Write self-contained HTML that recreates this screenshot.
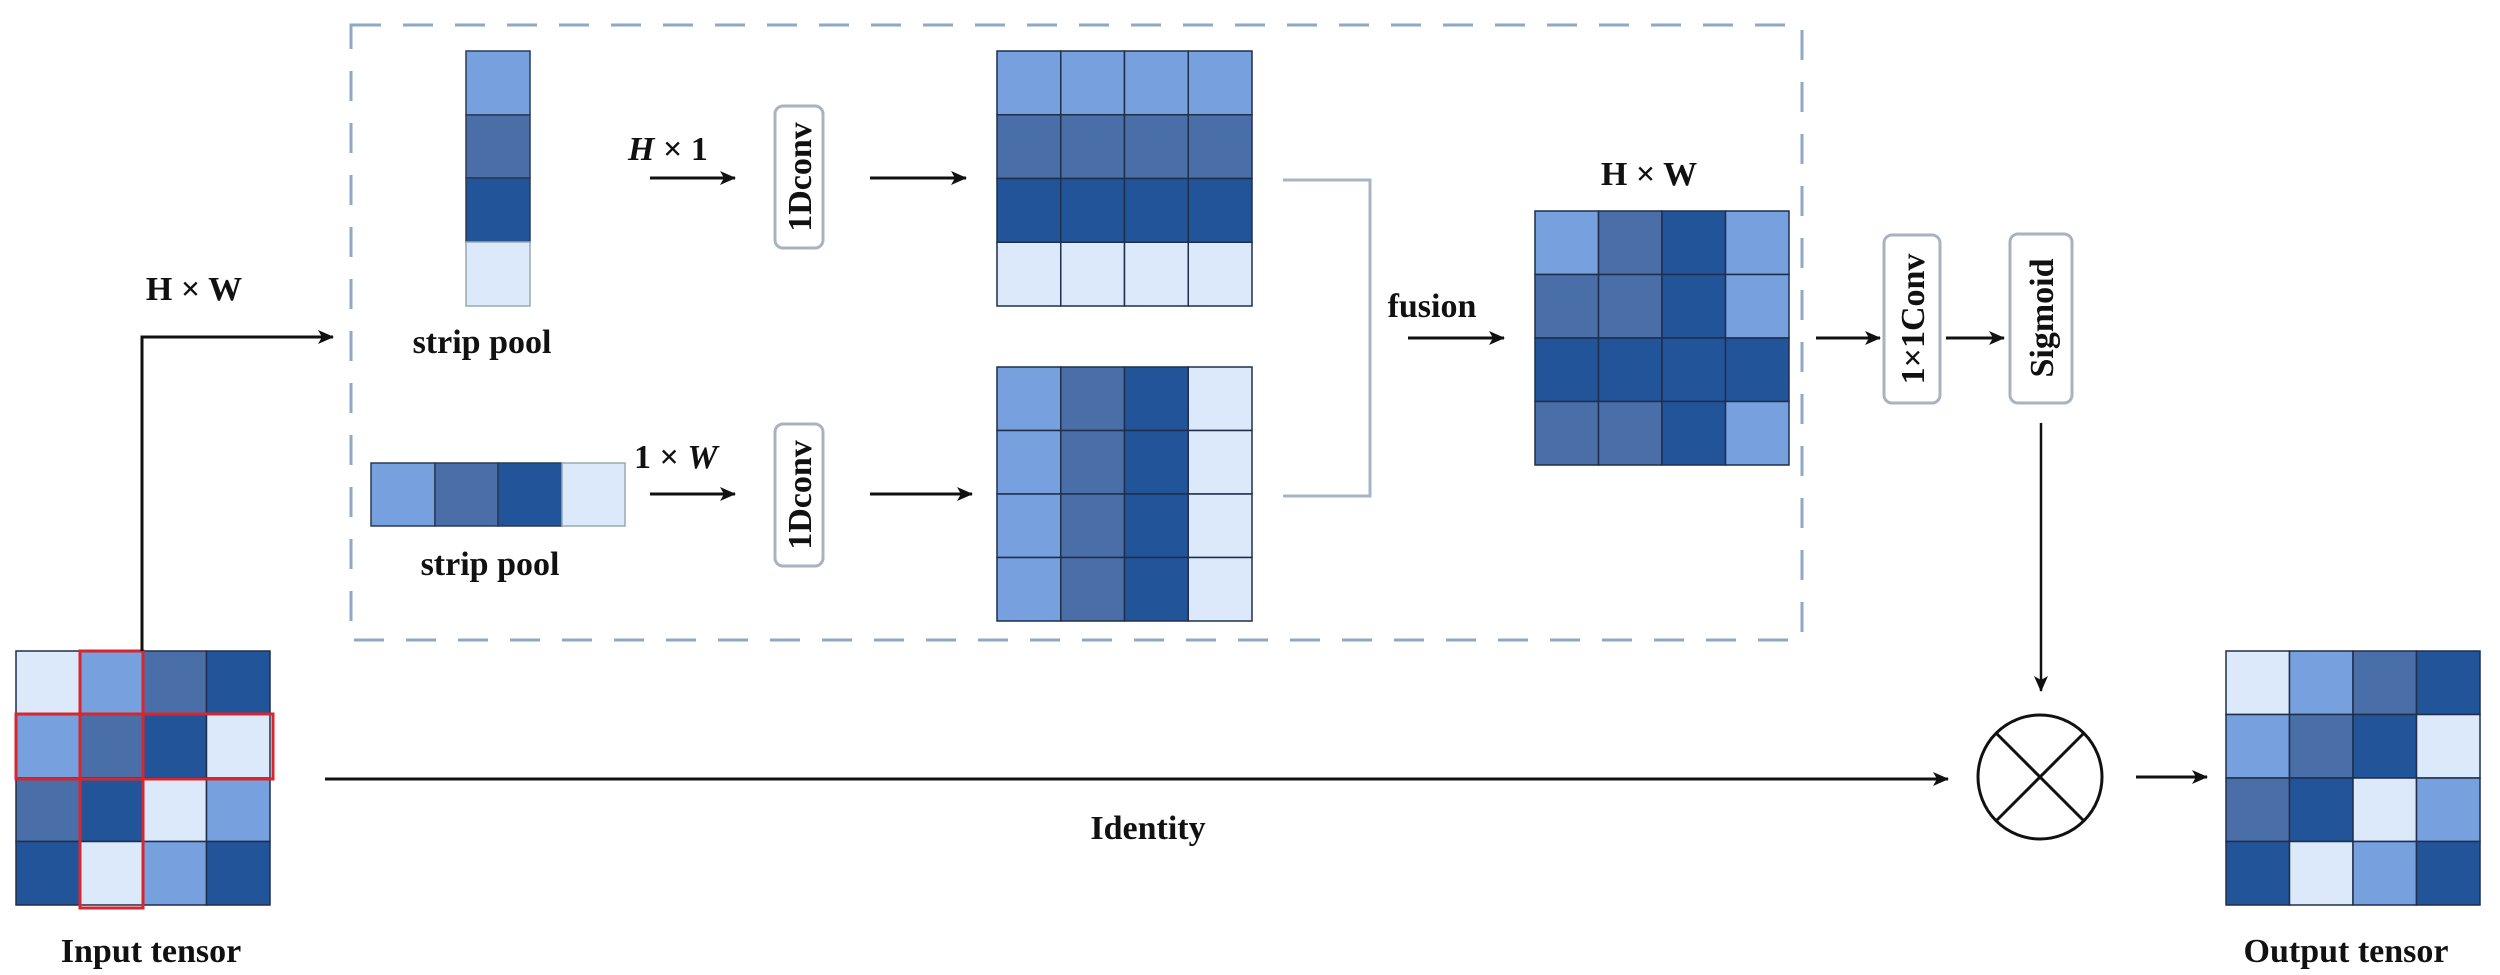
<!DOCTYPE html>
<html><head><meta charset="utf-8"><style>
html,body{margin:0;padding:0;background:#fff;}
svg{display:block;}
text{font-family:"Liberation Serif",serif;font-weight:bold;fill:#111;}
</style></head><body>
<svg width="2500" height="975" viewBox="0 0 2500 975" xmlns="http://www.w3.org/2000/svg">
<defs>
<marker id="ah" markerWidth="10" markerHeight="10" refX="9" refY="5" orient="auto" markerUnits="userSpaceOnUse">
<path d="M0,0 L10,5 L0,10 L3,5 Z" fill="#111"/>
</marker>
<marker id="ah2" markerWidth="16" markerHeight="14" refX="15" refY="7" orient="auto" markerUnits="userSpaceOnUse">
<path d="M0,0 L16,7 L0,14 L4,7 Z" fill="#111"/>
</marker>
</defs>
<!-- dashed box -->
<rect x="351" y="25" width="1451" height="615" fill="none" stroke="#8ea8c6" stroke-width="3" stroke-dasharray="30,22"/>

<g stroke="#2a3a55" stroke-width="1.5">
<!-- vertical strip -->
<rect x="466" y="51" width="64" height="64" fill="#76a0de"/>
<rect x="466" y="115" width="64" height="63" fill="#4a6ea8"/>
<rect x="466" y="178" width="64" height="64" fill="#22549a"/>
<rect x="466" y="242" width="64" height="64" fill="#dce9fb" stroke="#9aa"/>
<!-- horizontal strip -->
<rect x="371" y="463" width="64" height="63" fill="#76a0de"/>
<rect x="435" y="463" width="63" height="63" fill="#4a6ea8"/>
<rect x="498" y="463" width="64" height="63" fill="#22549a"/>
<rect x="562" y="463" width="63" height="63" fill="#dce9fb" stroke="#9aa"/>
</g>

<g id="grids" stroke="#1f2f4a" stroke-width="1.5"></g>

<!-- bracket lines -->
<polyline points="1283,180 1370,180 1370,496 1283,496" fill="none" stroke="#a8b4c4" stroke-width="3"/>

<!-- boxes -->
<g fill="#fff" stroke="#a9b3c0" stroke-width="3">
<rect x="775" y="106" width="48" height="142" rx="8"/>
<rect x="775" y="424" width="48" height="142" rx="8"/>
<rect x="1884" y="235" width="56" height="168" rx="8"/>
<rect x="2010" y="234" width="62" height="169" rx="8"/>
</g>
<text transform="translate(811,177) rotate(-90)" text-anchor="middle" font-size="34">1Dconv</text>
<text transform="translate(811,495) rotate(-90)" text-anchor="middle" font-size="34">1Dconv</text>
<text transform="translate(1924,319) rotate(-90)" text-anchor="middle" font-size="34">1×1Conv</text>
<text transform="translate(2053,318) rotate(-90)" text-anchor="middle" font-size="34">Sigmoid</text>

<!-- arrows -->
<g stroke="#111" stroke-width="3" fill="none">
<line x1="650" y1="178" x2="735" y2="178" marker-end="url(#ah2)"/>
<line x1="870" y1="178" x2="966" y2="178" marker-end="url(#ah2)"/>
<line x1="650" y1="494" x2="735" y2="494" marker-end="url(#ah2)"/>
<line x1="870" y1="494" x2="972" y2="494" marker-end="url(#ah2)"/>
<line x1="1408" y1="338" x2="1504" y2="338" marker-end="url(#ah2)"/>
<line x1="1816" y1="338" x2="1880" y2="338" marker-end="url(#ah2)"/>
<line x1="1946" y1="338" x2="2004" y2="338" marker-end="url(#ah2)"/>
<line x1="2136" y1="777" x2="2207" y2="777" marker-end="url(#ah2)"/>
<line x1="325" y1="779" x2="1948" y2="779" marker-end="url(#ah2)"/>
<polyline points="142,651 142,337 333,337" marker-end="url(#ah2)"/>
<line x1="2041" y1="423" x2="2041" y2="691" stroke-width="2.5" marker-end="url(#ah2)"/>
<!-- otimes -->
<circle cx="2040" cy="777" r="62" stroke-width="3"/>
<line x1="1996" y1="733" x2="2084" y2="821" stroke-width="3"/>
<line x1="2084" y1="733" x2="1996" y2="821" stroke-width="3"/>
</g>

<!-- labels -->
<g font-size="34">
<text x="482" y="353" text-anchor="middle">strip pool</text>
<text x="490" y="575" text-anchor="middle">strip pool</text>
<text x="628" y="160"><tspan font-style="italic">H</tspan> × 1</text>
<text x="634" y="468">1 × <tspan font-style="italic">W</tspan></text>
<text x="194" y="300" text-anchor="middle">H × W</text>
<text x="1649" y="185" text-anchor="middle">H × W</text>
<text x="1432" y="317" text-anchor="middle">fusion</text>
<text x="1148" y="839" text-anchor="middle">Identity</text>
<text x="151" y="962" text-anchor="middle">Input tensor</text>
<text x="2346" y="962" text-anchor="middle">Output tensor</text>
</g>
</svg>
<script>
(function(){
var C={P:"#dce9fb",L:"#76a0de",M:"#4a6ea8",D:"#22549a"};
var g=document.getElementById("grids");
function grid(x,y,w,h,rows){
 var cw=w/4,ch=h/4;
 for(var r=0;r<4;r++)for(var c=0;c<4;c++){
  var e=document.createElementNS("http://www.w3.org/2000/svg","rect");
  e.setAttribute("x",x+c*cw);e.setAttribute("y",y+r*ch);
  e.setAttribute("width",cw);e.setAttribute("height",ch);
  e.setAttribute("fill",C[rows[r][c]]);g.appendChild(e);
 }
}
grid(997,51,255,255,["LLLL","MMMM","DDDD","PPPP"]);
grid(997,367,255,254,["LMDP","LMDP","LMDP","LMDP"]);
grid(1535,211,254,254,["LMDL","MMDL","DDDD","MMDL"]);
grid(16,651,254,254,["PLMD","LMDP","MDPL","DPLD"]);
grid(2226,651,254,254,["PLMD","LMDP","MDPL","DPLD"]);
var s="http://www.w3.org/2000/svg";
[[80,651,63,257],[16,714,257,65]].forEach(function(a){
 var e=document.createElementNS(s,"rect");
 e.setAttribute("x",a[0]);e.setAttribute("y",a[1]);e.setAttribute("width",a[2]);e.setAttribute("height",a[3]);
 e.setAttribute("fill","none");e.setAttribute("stroke","#d8262e");e.setAttribute("stroke-width","3");
 g.appendChild(e);
});
})();
</script>
</body></html>
